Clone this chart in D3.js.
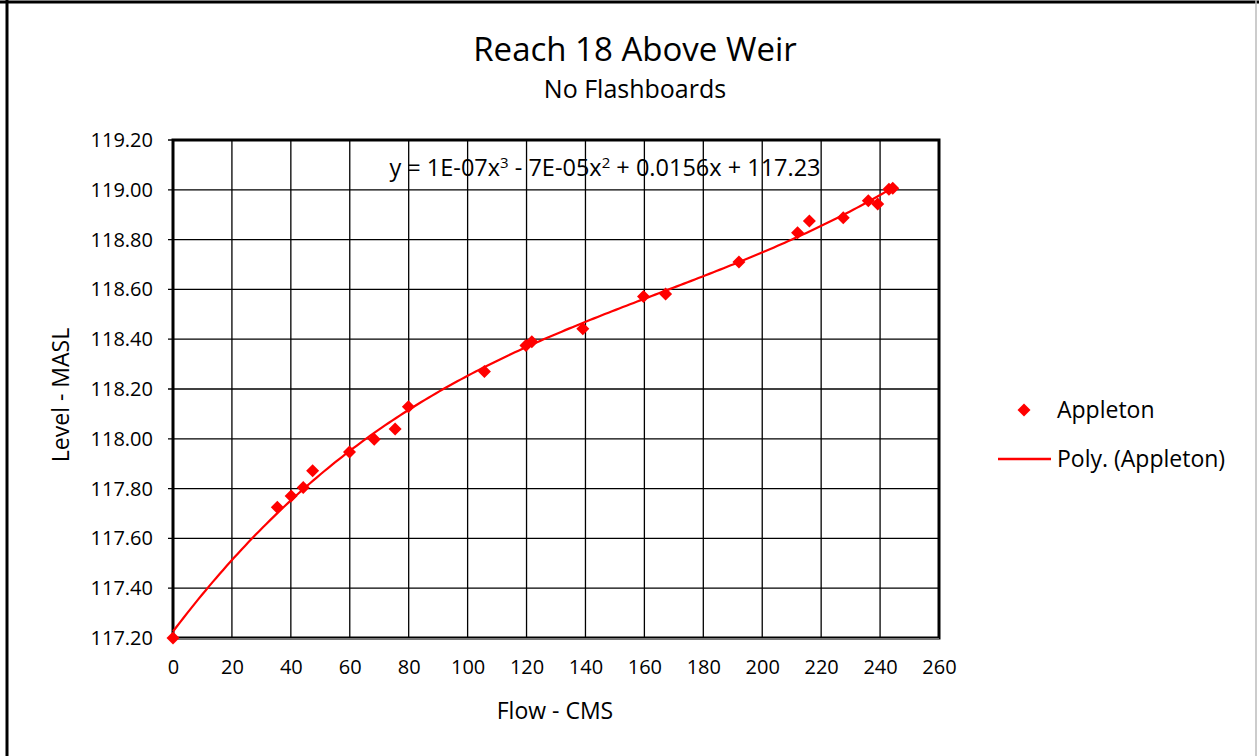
<!DOCTYPE html>
<html><head><meta charset="utf-8">
<script src="https://cdn.jsdelivr.net/npm/d3@7/dist/d3.min.js"></script>
<style>
html,body{margin:0;padding:0;background:#fff;}
svg text{font-family:"Open Sans", Lato, sans-serif;fill:#000;}
</style></head>
<body>
<svg id="chart" width="1259" height="756"></svg>
<script>
// ---- data ----
const flowCMS = [0, 35.4, 40.1, 44.2, 47.4, 59.9, 68.3, 75.4, 79.9, 105.7, 119.8, 121.8, 139.1, 159.7, 167.2, 192.1, 212.0, 216.0, 227.5, 236.0, 239.2, 243.0, 244.3];
const levelMASL = [117.20, 117.725, 117.77, 117.804, 117.872, 117.947, 117.998, 118.039, 118.129, 118.27, 118.375, 118.39, 118.442, 118.571, 118.582, 118.71, 118.828, 118.875, 118.888, 118.956, 118.943, 119.002, 119.006];
const xTicks = [0,20,40,60,80,100,120,140,160,180,200,220,240,260];
const yTicks = [117.2,117.4,117.6,117.8,118.0,118.2,118.4,118.6,118.8,119.0,119.2];
const seriesName = "Appleton";
const trendName = "Poly. (Appleton)";
const titleText = "Reach 18 Above Weir";
const subtitleText = "No Flashboards";
const xTitle = "Flow - CMS";
const yTitle = "Level - MASL";

const svg = d3.select("#chart");
const L = 173, R = 939, T = 140, B = 638;
const x = d3.scaleLinear().domain([0,260]).range([L,R]);
const y = d3.scaleLinear().domain([117.2,119.2]).range([B,T]);

// outer border
svg.append("line").attr("x1",0).attr("x2",1259).attr("y1",2).attr("y2",2).attr("stroke","#000").attr("stroke-width",3);
svg.append("line").attr("x1",7).attr("x2",7).attr("y1",0).attr("y2",756).attr("stroke","#000").attr("stroke-width",3);
svg.append("line").attr("x1",1256).attr("x2",1256).attr("y1",0).attr("y2",756).attr("stroke","#bbb").attr("stroke-width",1.5);

// titles
svg.append("text").attr("x",635).attr("y",61).attr("text-anchor","middle").style("font-size","33px").text(titleText);
svg.append("text").attr("x",635).attr("y",98).attr("text-anchor","middle").style("font-size","25px").text(subtitleText);

// gridlines
const g = svg.append("g");
g.selectAll(".vg").data(xTicks).join("line")
  .attr("x1",d=>x(d)).attr("x2",d=>x(d)).attr("y1",T).attr("y2",B)
  .attr("stroke","#000").attr("stroke-width",1.3);
g.selectAll(".hg").data(yTicks).join("line")
  .attr("x1",L-5).attr("x2",R).attr("y1",d=>y(d)).attr("y2",d=>y(d))
  .attr("stroke","#000").attr("stroke-width",1.3);

// axes labels via d3 axes
const xAxis = d3.axisBottom(x).tickValues(xTicks).tickSize(0).tickPadding(22).tickFormat(d3.format("d"));
const xg = svg.append("g").attr("transform",`translate(0,${B})`).call(xAxis);
xg.select(".domain").remove();
xg.selectAll("text").style("font-size","20px").attr("font-family",null);
const yAxis = d3.axisLeft(y).tickValues(yTicks).tickSize(0).tickPadding(20).tickFormat(d3.format(".2f"));
const yg = svg.append("g").attr("transform",`translate(${L},0)`).call(yAxis);
yg.select(".domain").remove();
yg.selectAll("text").style("font-size","20px").attr("font-family",null);

// plot frame
svg.append("rect").attr("x",L).attr("y",T).attr("width",R-L).attr("height",B-T)
  .attr("fill","none").attr("stroke","#000").attr("stroke-width",3);
svg.append("line").attr("x1",L).attr("x2",R).attr("y1",B+1).attr("y2",B+1).attr("stroke","#777").attr("stroke-width",2);

// axis titles
svg.append("text").attr("x",555).attr("y",719).attr("text-anchor","middle").style("font-size","23px").text(xTitle);
svg.append("text").attr("transform","translate(69,395) rotate(-90)").attr("text-anchor","middle").style("font-size","23px").text(yTitle);

// cubic least-squares trendline (as Excel "Poly" order 3)
function polyfit(xs, ys, deg){
  const n = deg+1;
  const A = Array.from({length:n},()=>new Array(n+1).fill(0));
  for(let k=0;k<xs.length;k++){
    for(let i=0;i<n;i++){
      for(let j=0;j<n;j++) A[i][j]+=Math.pow(xs[k],i+j);
      A[i][n]+=ys[k]*Math.pow(xs[k],i);
    }
  }
  for(let i=0;i<n;i++){
    let p=i; for(let r=i+1;r<n;r++) if(Math.abs(A[r][i])>Math.abs(A[p][i])) p=r;
    [A[i],A[p]]=[A[p],A[i]];
    for(let r=0;r<n;r++){ if(r===i) continue; const f=A[r][i]/A[i][i]; for(let c=i;c<=n;c++) A[r][c]-=f*A[i][c]; }
  }
  return A.map((row,i)=>row[n]/row[i]);
}
const coef = polyfit(flowCMS, levelMASL, 3);
const xmin = d3.min(flowCMS), xmax = d3.max(flowCMS);
const trend = d3.range(0,201).map(i=>{const xv = xmin+(xmax-xmin)*i/200; return [xv, coef[0]+coef[1]*xv+coef[2]*xv*xv+coef[3]*xv*xv*xv];});
svg.append("path").datum(trend)
  .attr("d", d3.line().x(d=>x(d[0])).y(d=>y(d[1])))
  .attr("fill","none").attr("stroke","#ff0000").attr("stroke-width",2.2);

// points
const diamond = "M0,-6.5L6.5,0L0,6.5L-6.5,0Z";
svg.selectAll(".pt").data(flowCMS.map((f,i)=>[f,levelMASL[i]])).join("path")
  .attr("d",diamond).attr("transform",d=>`translate(${x(d[0])},${y(d[1])})`).attr("fill","#ff0000");

// equation label
const eq = svg.append("text").attr("x",605).attr("y",176).attr("text-anchor","middle").style("font-size","23.5px");
eq.append("tspan").text("y = 1E-07x");
eq.append("tspan").text("3").attr("dy",-8).style("font-size","15px");
eq.append("tspan").text(" - 7E-05x").attr("dy",8);
eq.append("tspan").text("2").attr("dy",-8).style("font-size","15px");
eq.append("tspan").text(" + 0.0156x + 117.23").attr("dy",8);

// legend
svg.append("path").attr("d",diamond).attr("transform","translate(1024,410)").attr("fill","#ff0000");
svg.append("text").attr("x",1057).attr("y",418).style("font-size","23px").text(seriesName);
svg.append("line").attr("x1",998).attr("x2",1051).attr("y1",459).attr("y2",459).attr("stroke","#ff0000").attr("stroke-width",2.5);
svg.append("text").attr("x",1057).attr("y",467).style("font-size","23px").text(trendName);
</script>
</body></html>
